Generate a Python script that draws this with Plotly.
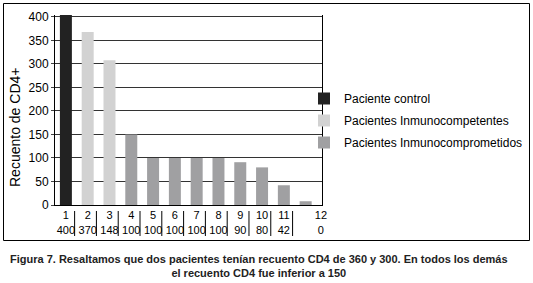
import plotly.graph_objects as go

categories = [1, 2, 3, 4, 5, 6, 7, 8, 9, 10, 11, 12]
values = [405, 368, 308, 150, 100, 100, 100, 100, 91, 80, 42, 8]
table_values = ["400", "370", "148", "100", "100", "100", "100", "100", "90", "80", "42", "0"]
groups = ["Paciente control"] + ["Pacientes Inmunocompetentes"] * 2 + ["Pacientes Inmunocomprometidos"] * 9
group_names = ["Paciente control", "Pacientes Inmunocompetentes", "Pacientes Inmunocomprometidos"]
group_colors = {"Paciente control": "#222222",
                "Pacientes Inmunocompetentes": "#d2d2d2",
                "Pacientes Inmunocomprometidos": "#a0a0a2"}
y_ticks = [0, 50, 100, 150, 200, 250, 300, 350, 400]
y_title = "Recuento de CD4+"
caption = ("<b>Figura 7. Resaltamos que dos pacientes tenían recuento CD4 de 360 y 300. En todos los demás"
           "<br>el recuento CD4 fue inferior a 150</b>")

FONT = "Liberation Sans"

fig = go.Figure()
for g in group_names:
    xs = [c for c, gg in zip(categories, groups) if gg == g]
    ys = [v for v, gg in zip(values, groups) if gg == g]
    fig.add_trace(go.Bar(x=xs, y=ys, name=g, legendgroup=g,
                         marker=dict(color=group_colors[g], line=dict(width=0)), width=0.55))

tick_pos = categories[:-1] + [categories[-1] + 0.7]
tick_text = [f"{c}<br>{v}" for c, v in zip(categories, table_values)]

W, H = 533, 283

def px(x):
    return x / W

def py(y):
    return 1 - y / H

frame = dict(xref="paper", yref="paper", line=dict(color="black", width=1), layer="above")
shapes = [dict(type="rect", x0=px(3.5), x1=px(529.5), y0=py(240.5), y1=py(3.5), **frame)]
for c in categories[:-1]:
    shapes.append(dict(type="line", xref="x", yref="paper", x0=c + 0.4, x1=c + 0.4, y0=py(211), y1=py(236),
                       line=dict(color="black", width=1), layer="above"))

fig.update_layout(
    width=W, height=H,
    margin=dict(l=0, r=0, t=0, b=0, autoexpand=False),
    paper_bgcolor="white", plot_bgcolor="white",
    font=dict(family=FONT, size=12, color="black"),
    xaxis=dict(domain=[px(55), px(322)], range=[0.5, 12.75], tickvals=tick_pos, ticktext=tick_text,
               showgrid=False, tickangle=0, automargin=False,
               showline=True, linecolor="black", linewidth=1, ticks="", zeroline=False,
               tickfont=dict(family=FONT, size=11)),
    yaxis=dict(domain=[py(205), py(15)], range=[0, 404], tickvals=y_ticks, showgrid=True,
               gridcolor="#333333", gridwidth=1, automargin=False,
               showline=True, linecolor="black", mirror=True, ticks="outside", ticklen=3,
               zeroline=False, tickfont=dict(family=FONT, size=12)),
    legend=dict(x=px(304), y=py(84), xanchor="left", yanchor="top", itemwidth=30,
                font=dict(family=FONT, size=12), bgcolor="rgba(0,0,0,0)", tracegroupgap=3),
    shapes=shapes,
    annotations=[
        dict(text=caption, xref="paper", yref="paper", x=px(259), y=py(251),
             xanchor="center", yanchor="top", showarrow=False, align="center",
             font=dict(family=FONT, size=11, color="#222222")),
        dict(text=y_title, xref="paper", yref="paper", x=px(15), y=py(128), textangle=-90,
             xanchor="center", yanchor="middle", showarrow=False,
             font=dict(family=FONT, size=14, color="black")),
    ],
)

fig.write_html("out.html")
